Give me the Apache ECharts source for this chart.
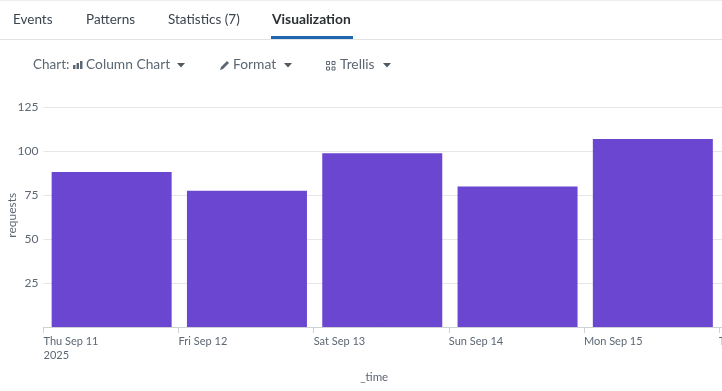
<!DOCTYPE html>
<html>
<head>
<meta charset="utf-8">
<style>
html, body { margin: 0; padding: 0; background: #fff; }
#container { width: 722px; height: 391px; }
</style>
<script src="https://cdn.jsdelivr.net/npm/echarts@6/dist/echarts.min.js"></script>
</head>
<body>
<div id="container"></div>
<script>
var days = ["2025-09-11", "2025-09-12", "2025-09-13", "2025-09-14", "2025-09-15"];
var requests = [88.3, 77.6, 99, 80, 107];
var yTicks = [25, 50, 75, 100, 125];
var tabs = ["Events", "Patterns", "Statistics (7)", "Visualization"];
var tabX = [13, 86, 168, 272];
var fontName = "Lato, 'Open Sans', sans-serif";
var weekNames = ["Sun", "Mon", "Tue", "Wed", "Thu", "Fri", "Sat"];
var monthNames = ["Jan", "Feb", "Mar", "Apr", "May", "Jun", "Jul", "Aug", "Sep", "Oct", "Nov", "Dec"];

var dom = document.getElementById("container");
var myChart = echarts.init(dom);

function dayMs(s) {
	return new Date(s + "T00:00:00Z").getTime();
}

// 时间轴标签，第一个带年份，只在整天的刻度上显示
function timeLabel(value) {
	if (value % 86400000 != 0) {
		return "";
	}
	var d = new Date(value);
	var text = weekNames[d.getUTCDay()] + " " + monthNames[d.getUTCMonth()] + " " + d.getUTCDate();
	if (value === dayMs(days[0])) {
		text += "\n" + d.getUTCFullYear();
	}
	return text;
}

function label(x, y, text, size, color, weight) {
	return {
		type: "text", x: x, y: y, silent: true,
		style: { text: text, fill: color, font: (weight || "normal") + " " + size + "px " + fontName, textVerticalAlign: "middle" }
	};
}

function rect(x, y, w, h, color) {
	return { type: "rect", silent: true, shape: { x: x, y: y, width: w, height: h }, style: { fill: color } };
}

function caret(x, y) {
	return { type: "polygon", silent: true, shape: { points: [[x, y], [x + 8, y], [x + 4, y + 4.5]] }, style: { fill: "#4f5a62" } };
}

// 顶部标签页和工具条
var headerItems = [rect(0, 0, 722, 1, "#eeeeee"), rect(0, 39, 722, 1, "#e0e2e4"), rect(271, 36, 82, 3, "#1f66ae")];
for (var i = 0; i < tabs.length; i++) {
	headerItems.push(label(tabX[i], 19.5, tabs[i], i == 3 ? 13.8 : 13.5, i == 3 ? "#2b3033" : "#3c444d", i == 3 ? "bold" : "normal"));
}
var toolColor = "#5c6773";
headerItems.push(label(33, 65, "Chart:", 13.5, toolColor));
headerItems.push(rect(73, 65, 2.5, 4, toolColor), rect(76.5, 63, 2.5, 6, toolColor), rect(80, 61, 2.5, 8, toolColor));
headerItems.push(label(86, 65, "Column Chart", 13.8, toolColor));
headerItems.push(caret(177, 63));
headerItems.push({ type: "polygon", silent: true, shape: { points: [[220, 70], [221, 67], [227, 61], [229, 63], [223, 69]] }, style: { fill: toolColor } });
headerItems.push(label(233, 65, "Format", 13.8, toolColor));
headerItems.push(caret(284, 63));
[[326, 61], [331.5, 61], [326, 66.5], [331.5, 66.5]].forEach(function (p) {
	headerItems.push({ type: "rect", silent: true, shape: { x: p[0] + 0.5, y: p[1] + 0.5, width: 3, height: 3 }, style: { fill: "none", stroke: toolColor, lineWidth: 1 } });
});
headerItems.push(label(340, 65, "Trellis", 13.8, toolColor));
headerItems.push(caret(383, 63));

var option = {
	animation: false,
	textStyle: { fontFamily: fontName },
	graphic: headerItems,
	grid: [
		{ left: 43.5, right: 0, top: 107.5, height: 219.5, outerBoundsMode: "none" },			//坐标轴和网格线
		{ left: 44, width: 676.5, top: 107.5, height: 219.5, outerBoundsMode: "none" }			//柱子
	],
	xAxis: [
		{
			gridIndex: 0,
			type: "time",
			min: dayMs(days[0]),
			max: dayMs("2025-09-16") + 86400000 * 3 / 135,		//右边多出一点，线画到边上
			interval: 86400000,
			name: "_time",
			nameLocation: "middle",
			nameGap: 44,
			nameTextStyle: { color: "#5c6773", fontSize: 11.5, fontFamily: fontName, padding: [0, 17, 0, 0] },
			axisLine: { show: true, lineStyle: { color: "#cfd2d5" } },
			axisTick: { show: true, length: 6, lineStyle: { color: "#cfd2d5" } },
			splitLine: { show: false },
			axisLabel: {
				color: "#5c6773", fontSize: 11, fontFamily: fontName, align: "left", margin: 7, lineHeight: 14,
				showMinLabel: true, showMaxLabel: true, hideOverlap: false,
				formatter: timeLabel
			}
		},
		{
			gridIndex: 1,
			type: "category",
			data: days,
			show: false
		}
	],
	yAxis: [
		{
			gridIndex: 0,
			type: "value",
			min: 0,
			max: yTicks[yTicks.length - 1],
			interval: 25,
			name: "requests",
			nameLocation: "middle",
			nameMoveOverlap: false,
			nameGap: 25,
			nameTextStyle: { color: "#5c6773", fontSize: 12, fontFamily: fontName, padding: [0, 0, 0, 4] },
			axisLine: { show: false },
			axisTick: { show: false },
			splitLine: { lineStyle: { color: "#e4e6e8" } },
			axisLabel: {
				color: "#5c6773", fontSize: 12, fontFamily: fontName, margin: 5,
				formatter: function (v) { return yTicks.indexOf(v) >= 0 ? v : ""; }
			}
		},
		{
			gridIndex: 1,
			type: "value",
			min: 0,
			max: yTicks[yTicks.length - 1],
			show: false
		}
	],
	series: [{
		name: "requests",
		type: "bar",
		xAxisIndex: 1,
		yAxisIndex: 1,
		barWidth: 120,
		itemStyle: { color: "#6b46d0" },
		data: requests
	}]
};

myChart.setOption(option);
</script>
</body>
</html>
